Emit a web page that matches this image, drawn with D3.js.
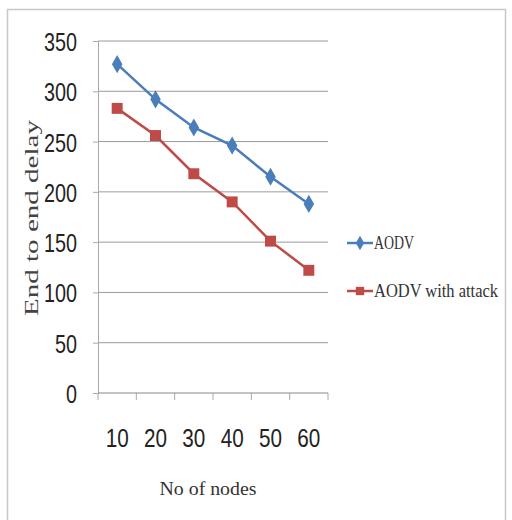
<!DOCTYPE html>
<html>
<head>
<meta charset="utf-8">
<script src="https://cdn.jsdelivr.net/npm/d3@7"></script>
<style>
  body { margin: 0; background: #fff; }
  .tick text { font-family: "Liberation Sans Narrow", "Liberation Sans", Arial, sans-serif; fill: #222; }
</style>
</head>
<body>
<div id="chart"></div>
<script>
var nodes = ['10', '20', '30', '40', '50', '60'];
var aodv = [327, 292, 264, 246, 215, 188];
var aodvAttack = [283, 256, 218, 190, 151, 122];
var yTicks = [0, 50, 100, 150, 200, 250, 300, 350];

var svg = d3.select('#chart').append('svg')
	.attr('width', 512)
	.attr('height', 520);

// outer frame
svg.append('rect')
	.attr('x', 7.5).attr('y', 9.5)
	.attr('width', 498).attr('height', 520)
	.style('fill', 'none')
	.style('stroke', '#c8c8c8')
	.style('stroke-width', 1.5);

var plotLeft = 98, plotRight = 328, plotTop = 41, plotBottom = 393;

var x = d3.scaleBand().domain(nodes).range([plotLeft, plotRight]);
var y = d3.scaleLinear().domain([0, 350]).range([plotBottom, plotTop]);

// gridlines
svg.append('g')
	.selectAll('line')
	.data(yTicks.slice(1))
	.enter().append('line')
	.attr('x1', plotLeft).attr('x2', plotRight)
	.attr('y1', d => y(d)).attr('y2', d => y(d))
	.style('stroke', '#9a9a9a')
	.style('stroke-width', 1);

var yAxis = svg.append('g')
	.attr('transform', 'translate(' + plotLeft + ',0)')
	.call(d3.axisLeft(y).tickValues(yTicks).tickSize(5).tickPadding(16));
yAxis.selectAll('text')
	.style('font-size', '25px')
	.attr('dy', '0.38em')
	.attr('textLength', d => String(d).length * 11)
	.attr('lengthAdjust', 'spacingAndGlyphs');

var xAxis = svg.append('g')
	.attr('transform', 'translate(0,' + plotBottom + ')')
	.call(d3.axisBottom(x).tickSize(0).tickPadding(36));
xAxis.selectAll('text')
	.style('font-size', '25px')
	.attr('textLength', 23)
	.attr('lengthAdjust', 'spacingAndGlyphs');
xAxis.select('.domain').remove();

// category boundary ticks
svg.append('g')
	.selectAll('line')
	.data(nodes.concat(['end']))
	.enter().append('line')
	.attr('x1', (d, i) => i < nodes.length ? x(d) : plotRight)
	.attr('x2', (d, i) => i < nodes.length ? x(d) : plotRight)
	.attr('y1', plotBottom).attr('y2', plotBottom + 7)
	.style('stroke', '#aaa');

svg.append('line')
	.attr('x1', plotLeft).attr('x2', plotRight)
	.attr('y1', plotBottom).attr('y2', plotBottom)
	.style('stroke', '#888');
svg.selectAll('.domain').style('stroke', '#aaa');
svg.selectAll('.tick line').style('stroke', '#aaa');

var line = d3.line()
	.x((d, i) => x(nodes[i]) + x.bandwidth() / 2)
	.y(d => y(d));

var series = [
	{name: 'AODV', values: aodv, color: '#4a7ebb', shape: d3.symbolDiamond},
	{name: 'AODV with attack', values: aodvAttack, color: '#be4b48', shape: d3.symbolSquare}
];

series.forEach(function(s) {
	svg.append('path')
		.attr('d', line(s.values))
		.style('fill', 'none')
		.style('stroke', s.color)
		.style('stroke-width', 2.5);
	svg.append('g')
		.selectAll('path')
		.data(s.values)
		.enter().append('path')
		.attr('d', d3.symbol().type(s.shape).size(s.shape === d3.symbolSquare ? 120 : 95))
		.attr('transform', (d, i) => 'translate(' + (x(nodes[i]) + x.bandwidth() / 2) + ',' + y(d) + ')')
		.style('fill', s.color);
});

// legend
var legendY = [243, 291];
series.forEach(function(s, i) {
	var g = svg.append('g').attr('transform', 'translate(347,' + legendY[i] + ')');
	g.append('line')
		.attr('x1', 0).attr('x2', 26)
		.style('stroke', s.color)
		.style('stroke-width', 2.5);
	g.append('path')
		.attr('d', d3.symbol().type(s.shape).size(s.shape === d3.symbolSquare ? 70 : 60))
		.attr('transform', 'translate(13,0)')
		.style('fill', s.color);
	g.append('text')
		.attr('x', 27)
		.attr('y', 6)
		.attr('textLength', i === 0 ? 40 : 124)
		.attr('lengthAdjust', 'spacingAndGlyphs')
		.style('font-family', '"Liberation Serif", "Times New Roman", serif')
		.style('font-size', '18px')
		.style('fill', '#333')
		.text(s.name);
});

// axis titles
svg.append('text')
	.attr('transform', 'translate(38,218) rotate(-90)')
	.attr('text-anchor', 'middle')
	.attr('textLength', 196)
	.attr('lengthAdjust', 'spacingAndGlyphs')
	.style('font-family', '"Liberation Serif", "Times New Roman", serif')
	.style('font-size', '19px')
	.style('fill', '#444')
	.text('End  to end delay');

svg.append('text')
	.attr('x', 208)
	.attr('y', 495)
	.attr('text-anchor', 'middle')
	.attr('textLength', 97)
	.attr('lengthAdjust', 'spacingAndGlyphs')
	.style('font-family', '"Liberation Serif", "Times New Roman", serif')
	.style('font-size', '19px')
	.style('fill', '#333')
	.text('No of nodes');
</script>
</body>
</html>
